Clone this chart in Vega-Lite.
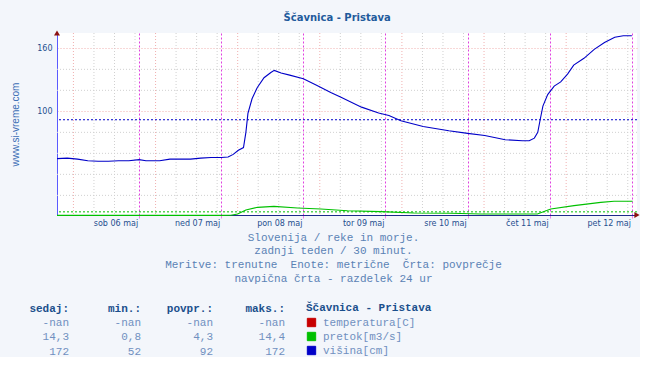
{
  "$schema": "https://vega.github.io/schema/vega-lite/v6.json",
  "autosize": {"type": "pad"},
  "padding": {"left": 10, "top": 13, "right": 0, "bottom": 0},
  "background": "#f3f6fb",
  "title": {"text": "Ščavnica - Pristava", "font": "DejaVu Sans", "fontSize": 10, "fontWeight": "bold", "color": "#1f5b9c", "anchor": "middle", "offset": 7, "dx": 12},
  "datasets": {
    "series": [
      {"series": "višina[cm]", "t": "2023-05-05T00:00", "v": 55},
      {"series": "višina[cm]", "t": "2023-05-05T03:00", "v": 55.5},
      {"series": "višina[cm]", "t": "2023-05-05T06:00", "v": 54.5},
      {"series": "višina[cm]", "t": "2023-05-05T09:00", "v": 53},
      {"series": "višina[cm]", "t": "2023-05-05T12:00", "v": 52.5},
      {"series": "višina[cm]", "t": "2023-05-05T15:00", "v": 52.5},
      {"series": "višina[cm]", "t": "2023-05-05T18:00", "v": 53},
      {"series": "višina[cm]", "t": "2023-05-05T21:00", "v": 53},
      {"series": "višina[cm]", "t": "2023-05-06T00:00", "v": 54},
      {"series": "višina[cm]", "t": "2023-05-06T02:00", "v": 53},
      {"series": "višina[cm]", "t": "2023-05-06T06:00", "v": 53},
      {"series": "višina[cm]", "t": "2023-05-06T09:00", "v": 54.5},
      {"series": "višina[cm]", "t": "2023-05-06T12:00", "v": 54.5},
      {"series": "višina[cm]", "t": "2023-05-06T15:00", "v": 54.5},
      {"series": "višina[cm]", "t": "2023-05-06T18:00", "v": 55.5},
      {"series": "višina[cm]", "t": "2023-05-06T21:00", "v": 56},
      {"series": "višina[cm]", "t": "2023-05-07T00:00", "v": 56},
      {"series": "višina[cm]", "t": "2023-05-07T02:00", "v": 56.5},
      {"series": "višina[cm]", "t": "2023-05-07T03:30", "v": 59},
      {"series": "višina[cm]", "t": "2023-05-07T05:00", "v": 63},
      {"series": "višina[cm]", "t": "2023-05-07T06:30", "v": 65.5},
      {"series": "višina[cm]", "t": "2023-05-07T07:12", "v": 80},
      {"series": "višina[cm]", "t": "2023-05-07T07:48", "v": 98},
      {"series": "višina[cm]", "t": "2023-05-07T09:00", "v": 112},
      {"series": "višina[cm]", "t": "2023-05-07T10:30", "v": 122.5},
      {"series": "višina[cm]", "t": "2023-05-07T12:30", "v": 132},
      {"series": "višina[cm]", "t": "2023-05-07T14:30", "v": 137},
      {"series": "višina[cm]", "t": "2023-05-07T15:30", "v": 139},
      {"series": "višina[cm]", "t": "2023-05-07T17:30", "v": 136.5},
      {"series": "višina[cm]", "t": "2023-05-07T20:00", "v": 134.5},
      {"series": "višina[cm]", "t": "2023-05-08T00:00", "v": 131},
      {"series": "višina[cm]", "t": "2023-05-08T04:00", "v": 124.5},
      {"series": "višina[cm]", "t": "2023-05-08T08:00", "v": 118},
      {"series": "višina[cm]", "t": "2023-05-08T11:00", "v": 113.5},
      {"series": "višina[cm]", "t": "2023-05-08T17:00", "v": 104},
      {"series": "višina[cm]", "t": "2023-05-08T22:00", "v": 98.5},
      {"series": "višina[cm]", "t": "2023-05-09T01:00", "v": 96},
      {"series": "višina[cm]", "t": "2023-05-09T04:30", "v": 91},
      {"series": "višina[cm]", "t": "2023-05-09T11:00", "v": 85.5},
      {"series": "višina[cm]", "t": "2023-05-09T18:30", "v": 81.5},
      {"series": "višina[cm]", "t": "2023-05-10T00:00", "v": 79},
      {"series": "višina[cm]", "t": "2023-05-10T05:00", "v": 77},
      {"series": "višina[cm]", "t": "2023-05-10T11:00", "v": 73},
      {"series": "višina[cm]", "t": "2023-05-10T16:00", "v": 72},
      {"series": "višina[cm]", "t": "2023-05-10T18:00", "v": 72},
      {"series": "višina[cm]", "t": "2023-05-10T19:30", "v": 74.5},
      {"series": "višina[cm]", "t": "2023-05-10T20:30", "v": 80},
      {"series": "višina[cm]", "t": "2023-05-10T21:12", "v": 92},
      {"series": "višina[cm]", "t": "2023-05-10T22:00", "v": 105},
      {"series": "višina[cm]", "t": "2023-05-10T23:24", "v": 116},
      {"series": "višina[cm]", "t": "2023-05-11T01:18", "v": 124},
      {"series": "višina[cm]", "t": "2023-05-11T03:12", "v": 128},
      {"series": "višina[cm]", "t": "2023-05-11T05:12", "v": 135.5},
      {"series": "višina[cm]", "t": "2023-05-11T07:00", "v": 144},
      {"series": "višina[cm]", "t": "2023-05-11T10:00", "v": 150.5},
      {"series": "višina[cm]", "t": "2023-05-11T13:00", "v": 159},
      {"series": "višina[cm]", "t": "2023-05-11T16:00", "v": 165.5},
      {"series": "višina[cm]", "t": "2023-05-11T19:00", "v": 170.5},
      {"series": "višina[cm]", "t": "2023-05-11T21:30", "v": 172},
      {"series": "višina[cm]", "t": "2023-05-12T00:00", "v": 172},
      {"series": "pretok[m3/s]", "t": "2023-05-05T00:00", "v": 0.9},
      {"series": "pretok[m3/s]", "t": "2023-05-06T00:00", "v": 0.9},
      {"series": "pretok[m3/s]", "t": "2023-05-07T00:00", "v": 0.9},
      {"series": "pretok[m3/s]", "t": "2023-05-07T02:48", "v": 1.0},
      {"series": "pretok[m3/s]", "t": "2023-05-07T04:48", "v": 2.3},
      {"series": "pretok[m3/s]", "t": "2023-05-07T07:12", "v": 6.1},
      {"series": "pretok[m3/s]", "t": "2023-05-07T10:36", "v": 8.6},
      {"series": "pretok[m3/s]", "t": "2023-05-07T15:24", "v": 9.5},
      {"series": "pretok[m3/s]", "t": "2023-05-07T22:18", "v": 8.0},
      {"series": "pretok[m3/s]", "t": "2023-05-08T05:06", "v": 7.0},
      {"series": "pretok[m3/s]", "t": "2023-05-08T12:54", "v": 5.4},
      {"series": "pretok[m3/s]", "t": "2023-05-08T22:36", "v": 4.5},
      {"series": "pretok[m3/s]", "t": "2023-05-09T08:24", "v": 3.2},
      {"series": "pretok[m3/s]", "t": "2023-05-09T19:06", "v": 2.9},
      {"series": "pretok[m3/s]", "t": "2023-05-10T03:54", "v": 2.3},
      {"series": "pretok[m3/s]", "t": "2023-05-10T20:24", "v": 2.3},
      {"series": "pretok[m3/s]", "t": "2023-05-11T00:18", "v": 7.0},
      {"series": "pretok[m3/s]", "t": "2023-05-11T07:06", "v": 10.2},
      {"series": "pretok[m3/s]", "t": "2023-05-11T14:54", "v": 13.3},
      {"series": "pretok[m3/s]", "t": "2023-05-11T18:48", "v": 14.4},
      {"series": "pretok[m3/s]", "t": "2023-05-12T00:12", "v": 14.4}
    ],
    "avg": [
      {"series": "pretok[m3/s]", "povpr": 4.3},
      {"series": "višina[cm]", "povpr": 92}
    ],
    "hgrid": [{"v": 20}, {"v": 40}, {"v": 60}, {"v": 80}, {"v": 120}, {"v": 140}],
    "vgrid": [
      {"t": "2023-05-05T04:48", "kind": "day"}, {"t": "2023-05-05T10:48", "kind": "6h"}, {"t": "2023-05-05T16:48", "kind": "6h"}, {"t": "2023-05-05T22:48", "kind": "6h"},
      {"t": "2023-05-06T04:48", "kind": "day"}, {"t": "2023-05-06T10:48", "kind": "6h"}, {"t": "2023-05-06T16:48", "kind": "6h"}, {"t": "2023-05-06T22:48", "kind": "6h"},
      {"t": "2023-05-07T04:48", "kind": "day"}, {"t": "2023-05-07T10:48", "kind": "6h"}, {"t": "2023-05-07T16:48", "kind": "6h"}, {"t": "2023-05-07T22:48", "kind": "6h"},
      {"t": "2023-05-08T04:48", "kind": "day"}, {"t": "2023-05-08T10:48", "kind": "6h"}, {"t": "2023-05-08T16:48", "kind": "6h"}, {"t": "2023-05-08T22:48", "kind": "6h"},
      {"t": "2023-05-09T04:48", "kind": "day"}, {"t": "2023-05-09T10:48", "kind": "6h"}, {"t": "2023-05-09T16:48", "kind": "6h"}, {"t": "2023-05-09T22:48", "kind": "6h"},
      {"t": "2023-05-10T04:48", "kind": "day"}, {"t": "2023-05-10T10:48", "kind": "6h"}, {"t": "2023-05-10T16:48", "kind": "6h"}, {"t": "2023-05-10T22:48", "kind": "6h"},
      {"t": "2023-05-11T04:48", "kind": "day"}, {"t": "2023-05-11T10:48", "kind": "6h"}, {"t": "2023-05-11T16:48", "kind": "6h"}, {"t": "2023-05-11T22:48", "kind": "6h"}
    ],
    "table": [
      {"row": "hdr", "col": "sedaj", "txt": "sedaj:"},
      {"row": "hdr", "col": "min", "txt": "min.:"},
      {"row": "hdr", "col": "povpr", "txt": "povpr.:"},
      {"row": "hdr", "col": "maks", "txt": "maks.:"},
      {"row": "temperatura", "col": "sedaj", "txt": "-nan"},
      {"row": "temperatura", "col": "min", "txt": "-nan"},
      {"row": "temperatura", "col": "povpr", "txt": "-nan"},
      {"row": "temperatura", "col": "maks", "txt": "-nan"},
      {"row": "pretok", "col": "sedaj", "txt": "14,3"},
      {"row": "pretok", "col": "min", "txt": "0,8"},
      {"row": "pretok", "col": "povpr", "txt": "4,3"},
      {"row": "pretok", "col": "maks", "txt": "14,4"},
      {"row": "visina", "col": "sedaj", "txt": "172"},
      {"row": "visina", "col": "min", "txt": "52"},
      {"row": "visina", "col": "povpr", "txt": "92"},
      {"row": "visina", "col": "maks", "txt": "172"}
    ]
  },
  "spacing": 19,
  "vconcat": [
    {
      "width": 580,
      "height": 182,
      "view": {"fill": "#ffffff", "stroke": null},
      "layer": [
        {
          "data": {"name": "vgrid"},
          "mark": {"type": "rule", "strokeDash": [1, 2], "strokeWidth": 1},
          "encoding": {
            "x": {"field": "t", "type": "temporal"},
            "color": {"condition": {"test": "datum.kind === 'day'", "value": "#f0b0b0"}, "value": "#d0d0d0"}
          }
        },
        {
          "data": {"name": "hgrid"},
          "mark": {"type": "rule", "strokeDash": [1, 2], "strokeWidth": 1, "color": "#d0d0d0"},
          "encoding": {
            "y": {"field": "v", "type": "quantitative"}
          }
        },
        {
          "data": {"name": "series"},
          "mark": {"type": "line", "strokeWidth": 1.1},
          "encoding": {
            "x": {
              "field": "t", "type": "temporal",
              "scale": {"domain": [{"year": 2023, "month": 5, "date": 5}, {"year": 2023, "month": 5, "date": 12, "hours": 1, "minutes": 30}]},
              "axis": {
                "values": [{"year": 2023, "month": 5, "date": 6}, {"year": 2023, "month": 5, "date": 7}, {"year": 2023, "month": 5, "date": 8}, {"year": 2023, "month": 5, "date": 9}, {"year": 2023, "month": 5, "date": 10}, {"year": 2023, "month": 5, "date": 11}, {"year": 2023, "month": 5, "date": 12}],
                "labelExpr": "['ned','pon','tor','sre','čet','pet','sob'][day(datum.value)] + ' ' + timeFormat(datum.value, '%d') + ' maj'",
                "labelAlign": "right",
                "labelOffset": -1.5,
                "labelFont": "DejaVu Sans",
                "labelFontSize": 8,
                "labelColor": "#1f4f8f",
                "labelPadding": 1,
                "labelOverlap": false,
                "labelFlush": false,
                "tickColor": "#f080f0",
                "tickSize": 3,
                "domainColor": "#1c2a8a",
                "grid": true,
                "gridColor": "#e040e0",
                "gridDash": [2, 2],
                "title": ["Slovenija / reke in morje.", "zadnji teden / 30 minut.", "Meritve: trenutne\u00a0 Enote: metrične\u00a0 Črta: povprečje", "navpična črta - razdelek 24 ur"],
                "titleFont": "Liberation Mono",
                "titleFontSize": 11,
                "titleFontWeight": "normal",
                "titleColor": "#5a82b5",
                "titleLineHeight": 13.8,
                "titlePadding": 4,
                "titleX": 276
              }
            },
            "y": {
              "field": "v", "type": "quantitative",
              "scale": {"domain": [1.3, 174.6], "zero": false, "nice": false},
              "axis": {
                "values": [100, 160],
                "labelOverlap": false,
                "labelFont": "DejaVu Sans",
                "labelFontSize": 8,
                "labelColor": "#1f4f8f",
                "labelPadding": 5,
                "ticks": false,
                "domainColor": "#5a5aff",
                "grid": true,
                "gridColor": "#f0b0b0",
                "gridDash": [1, 2],
                "title": "www.si-vreme.com",
                "titleFont": "Liberation Sans",
                "titleFontSize": 10,
                "titleFontWeight": "normal",
                "titleColor": "#3a6db5",
                "titlePadding": 16
              }
            },
            "color": {
              "field": "series", "type": "nominal",
              "scale": {"domain": ["temperatura[C]", "pretok[m3/s]", "višina[cm]"], "range": ["#c80000", "#00c000", "#0000c8"]},
              "legend": {
                "orient": "none",
                "legendX": 249,
                "legendY": 269,
                "padding": 0,
                "title": "Ščavnica - Pristava",
                "titleFont": "Liberation Mono",
                "titleFontSize": 11,
                "titleFontWeight": "bold",
                "titleColor": "#1a4f8c",
                "titlePadding": 4,
                "labelFont": "Liberation Mono",
                "labelFontSize": 11,
                "labelColor": "#7090c0",
                "labelOffset": 6,
                "rowPadding": 1,
                "symbolType": "square",
                "symbolSize": 70,
                "encode": {"symbols": {"update": {"fill": {"scale": "color", "field": "value"}, "stroke": {"value": "#000000"}, "strokeWidth": {"value": 1}, "opacity": {"value": 1}, "fillOpacity": {"value": 1}}}}
              }
            }
          }
        },
        {
          "data": {"name": "avg"},
          "mark": {"type": "rule", "strokeDash": [2, 2], "strokeWidth": 1},
          "encoding": {
            "y": {"field": "povpr", "type": "quantitative"},
            "color": {"field": "series", "type": "nominal"}
          }
        },
        {
          "data": {"values": [{}]},
          "mark": {"type": "point", "shape": "triangle-up", "filled": true, "size": 36, "color": "#8b1010", "opacity": 1},
          "encoding": {
            "x": {"datum": {"year": 2023, "month": 5, "date": 5}, "type": "temporal"},
            "y": {"datum": 174.6, "type": "quantitative"}
          }
        },
        {
          "data": {"values": [{}]},
          "mark": {"type": "point", "shape": "triangle-right", "filled": true, "size": 36, "color": "#8b1010", "opacity": 1},
          "encoding": {
            "x": {"datum": {"year": 2023, "month": 5, "date": 12, "hours": 1, "minutes": 30}, "type": "temporal"},
            "y": {"datum": 1.3, "type": "quantitative"}
          }
        }
      ]
    },
    {
      "width": 240,
      "height": 42.5,
      "view": {"stroke": null},
      "data": {"name": "table"},
      "encoding": {
        "x": {"field": "col", "type": "nominal", "scale": {"type": "point", "domain": ["sedaj", "min", "povpr", "maks"], "padding": 0.1667}, "axis": null},
        "y": {"field": "row", "type": "nominal", "scale": {"type": "point", "domain": ["hdr", "temperatura", "pretok", "visina"], "padding": 0}, "axis": null},
        "text": {"field": "txt"}
      },
      "layer": [
        {
          "transform": [{"filter": "datum.row === 'hdr'"}],
          "mark": {"type": "text", "align": "right", "baseline": "middle", "font": "Liberation Mono", "fontSize": 11, "fontWeight": "bold", "color": "#1a4f8c"}
        },
        {
          "transform": [{"filter": "datum.row !== 'hdr'"}],
          "mark": {"type": "text", "align": "right", "baseline": "middle", "font": "Liberation Mono", "fontSize": 11, "color": "#7090c0"}
        }
      ]
    }
  ],
  "config": {
    "view": {"stroke": null}
  }
}
